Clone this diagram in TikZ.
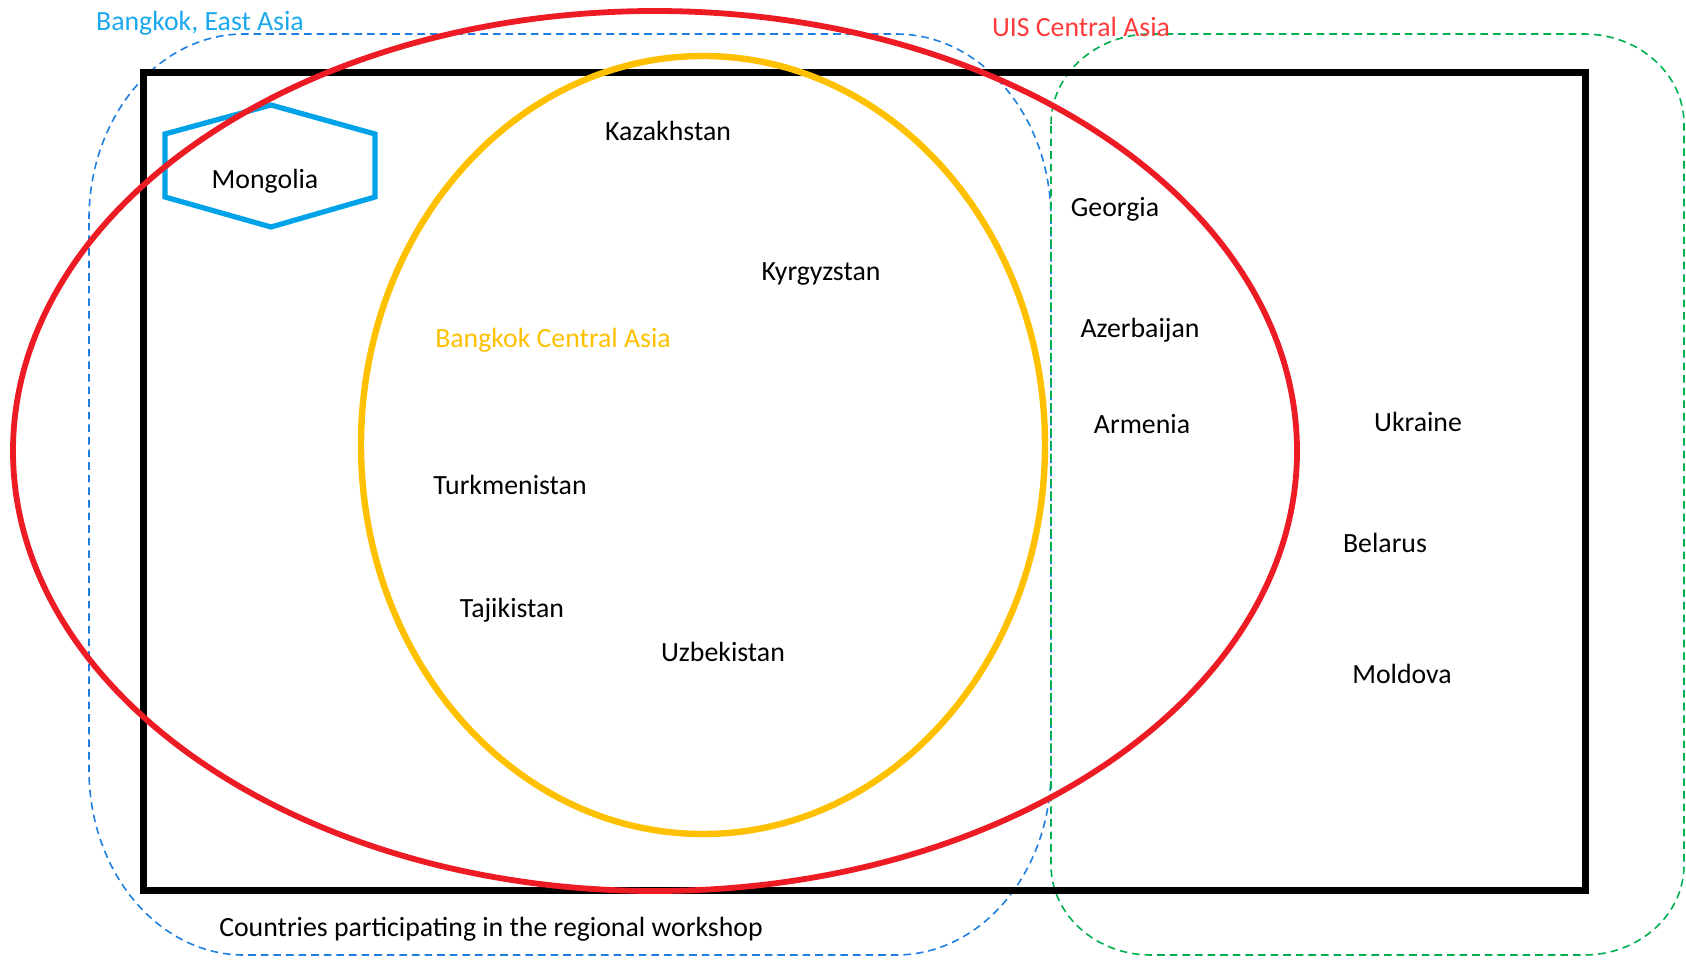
\documentclass[tikz,border=0pt]{standalone}
\usepackage{fontspec}
\setmainfont{Carlito}
\usetikzlibrary{positioning}
\definecolor{uisred}{HTML}{ED1C24}
\definecolor{uistext}{HTML}{FF3B3B}
\definecolor{bkyellow}{HTML}{FFC000}
\definecolor{bkblue}{HTML}{1F7FE0}
\definecolor{bktext}{HTML}{1CA8EC}
\definecolor{mongblue}{HTML}{00A2E8}
\definecolor{eegreen}{HTML}{00B050}
\tikzset{
  lbl/.style={font=\fontsize{13.9}{16}\selectfont},
  dashline/.style={dashed,dash pattern=on 3.8pt off 2.5pt,line width=0.8pt},
}
\begin{document}
\begin{tikzpicture}[x=0.5pt,y=-0.5pt]
\useasboundingbox (0,0) rectangle (1686,959);
\draw[dashline,bkblue] (89,219) arc[start angle=180,end angle=270,x radius=155,y radius=185] -- (896,34)
  arc[start angle=270,end angle=360,x radius=155,y radius=185] -- (1051,770)
  arc[start angle=0,end angle=90,x radius=155,y radius=185] -- (244,955)
  arc[start angle=90,end angle=180,x radius=155,y radius=185] -- cycle;
\draw[dashline,eegreen] (1051,124) arc[start angle=180,end angle=270,x radius=100,y radius=90] -- (1584,34)
  arc[start angle=270,end angle=360,x radius=100,y radius=90] -- (1684,865)
  arc[start angle=0,end angle=90,x radius=100,y radius=90] -- (1151,955)
  arc[start angle=90,end angle=180,x radius=100,y radius=90] -- cycle;
\draw[line width=3.5pt] (143,72) rectangle (1585,890);
\draw[bkyellow,line width=3.2pt] (703,445) ellipse[x radius=342,y radius=389];
\coordinate (h1) at (271,105);
\coordinate (h2) at (375,134);
\coordinate (h3) at (375,197);
\coordinate (h4) at (271,227);
\coordinate (h5) at (165,197);
\coordinate (h6) at (165,134);
\draw[mongblue,line width=2.6pt,line join=miter] (h1)--(h2)--(h3)--(h4)--(h5)--(h6)--cycle;
\draw[uisred,line width=2.9pt] (655,451) ellipse[x radius=642,y radius=440];
\node[lbl,text=bktext] (bea) at (200,23) {Bangkok, East Asia};
\node[lbl,text=uistext] (uis) at (1081,27) {UIS Central Asia};
\node[lbl,text=bkyellow] (bca) at (553,340) {Bangkok Central Asia};
\node[lbl] (mon) at (265,181) {Mongolia};
\node[lbl] (kaz) at (668,131) {Kazakhstan};
\node[lbl] (kyr) at (821,274) {Kyrgyzstan};
\node[lbl] (tkm) at (510,485) {Turkmenistan};
\node[lbl] (tjk) at (512,610) {Tajikistan};
\node[lbl] (uzb) at (723,652) {Uzbekistan};
\node[lbl] (geo) at (1115,209) {Georgia};
\node[lbl] (aze) at (1140,330) {Azerbaijan};
\node[lbl] (arm) at (1142,424) {Armenia};
\node[lbl] (ukr) at (1418,422) {Ukraine};
\node[lbl] (blr) at (1385,543) {Belarus};
\node[lbl] (mda) at (1402,674) {Moldova};
\node[lbl] (cap) at (491,929) {Countries participating in the regional workshop};
\end{tikzpicture}
\end{document}
